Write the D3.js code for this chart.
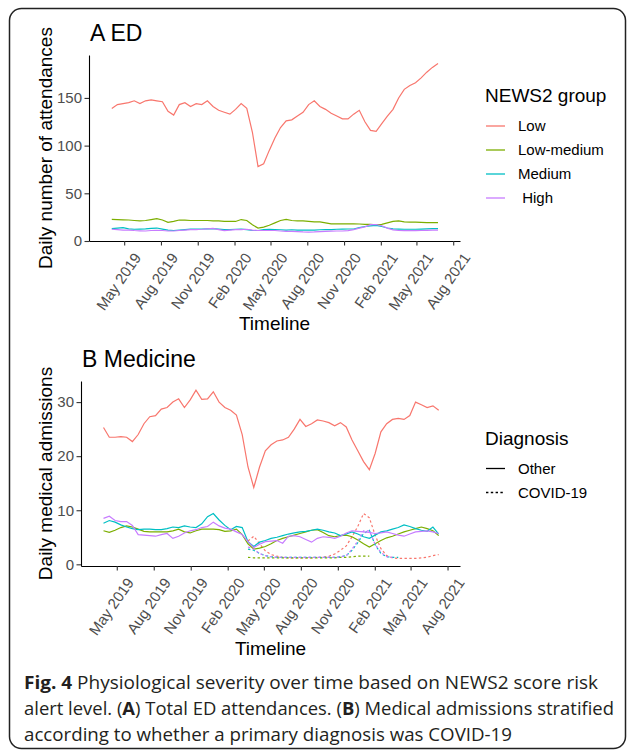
<!DOCTYPE html>
<html>
<head>
<meta charset="utf-8">
<script src="https://d3js.org/d3.v7.min.js"></script>
<style>
  body { margin: 0; background: #fff; }
  svg { display: block; font-family: "Liberation Sans", Arial, Helvetica, sans-serif; }
</style>
</head>
<body>
<svg id="chart" width="627" height="754"></svg>
<script>
var groups = ["Low", "Low-medium", "Medium", " High"];
var colours = ["#F8766D", "#7CAE00", "#00BFC4", "#C77CFF"];
var diagnoses = ["Other", "COVID-19"];
var tickLabels = ["2019-05-01", "2019-08-01", "2019-11-01", "2020-02-01", "2020-05-01",
                  "2020-08-01", "2020-11-01", "2021-02-01", "2021-05-01", "2021-08-01"];

// panel A: ED attendances, one value every ~2 weeks
var startA = "2019-03-31", endA = "2021-06-24";
var lowA = [139,143,144,145,147,144,147,148,147,146,136,132,143,145,141,144,143,147,141,137,
            135,133,138,144,139,114,78,81,95,108,119,126,127,131,135,143,147,141,138,134,
            131,128,128,133,137,125,116,115,123,131,138,150,159,163,166,171,177,182,186];
var lowMedA = [22.7,22.5,22.2,22,21.5,21,21.5,22.5,23.5,22,19.5,20.5,22,21.8,21.5,21.5,21.5,21.5,21,21,
               20.5,20.5,20.5,22.5,21.5,17,13.5,14.5,16.5,19,21.5,22.7,21.5,21,21,20.5,20,20,19,18,
               18,18,18,18,17.8,17.5,17.5,17,17.5,19,20.5,21,20,19.8,19.8,19.5,19.2,19.2,19.2];
var medA = [12.9,13.5,14,12.8,12.3,12.5,12.8,13.3,13.6,12.5,11.5,11,11.5,12,12.5,12.5,12.6,12.8,12.9,12.5,
            12,12,12.3,12.5,12,11,11,12,12.3,12,11.8,11.5,11.8,11.5,11.5,11.5,11.5,11.8,12,12,
            12.3,12.5,12.6,12.6,14,15.2,15.9,16.3,15.2,13.6,12.8,12.5,12.3,12.3,12.3,12.5,12.8,12.9,12.9];
var highA = [12.3,12,11.5,11.5,11,10.7,10.5,11,11.2,11,10.5,10.5,11,11.5,12,12,12.3,12.8,13.3,12,
             10.8,11.5,12,12,12.3,11.5,11,11,11,11,10.5,10,10,9.8,9.5,9.4,9.5,9.8,10,10.3,
             10.5,10.5,10.8,12,13.5,14.8,17.2,17.3,16,13.5,11.7,11,10.8,10.8,10.8,11,11.2,11.5,11.5];

// panel B: medical admissions, same spacing
var startB = "2019-03-29", endB = "2021-07-10";
var lowB = [25.3,23.5,23.5,23.6,23.5,22.7,24,26,27.3,27.5,28.7,29,30,30.6,29,30.4,32.2,30.5,30.6,31.9,
            30,29,28.5,27.6,24,18,14.2,18,21,22.1,22.8,23,23.5,25,26.8,25.5,26,26.7,26.5,26.2,
            25.6,26.2,25.4,23,21,19,17.5,20.5,24.5,26,26.8,27,26.8,27.5,30,29.5,29,29.3,28.5];
var lowMedB = [6.2,5.9,6.3,6.8,7.1,6.9,6.5,6.1,6,6,6,6,6.2,6.5,6,5.8,6.2,6.5,6.5,6.5,
               6.4,6.1,6.2,6.5,5.5,3.8,2.8,3,3.3,3.8,4.4,4.8,5.1,5.4,5.7,6,6.3,6.4,5.9,5.3,
               5.1,5.3,5.4,5.1,4.5,3.8,3.2,3.8,4.4,4.9,5.2,5.6,6,6.3,6.6,6.9,6.6,6.2,5.3];
var medB = [7.6,8.1,7.8,7.3,6.9,6.6,6.4,6.5,6.5,6.4,6.4,6.6,6.9,6.8,7.1,6.9,6.8,7.5,8.8,9.4,
            8.2,7.2,6.4,7,6.8,4.2,3.3,4.1,4.4,4.8,5,5.3,5.6,5.8,6,6.1,6.3,6.5,6.3,6,
            5.8,5.3,5.6,6,5.6,5.1,4.8,5.4,6,6.2,6.5,6.8,7.3,7,6.6,6.3,6.1,6.9,5.6];
var highB = [8.5,8.9,8.1,7.9,7.9,7.2,5.5,5.4,5.3,5.2,5.5,5.7,4.8,5.2,5.8,6.2,6.4,6.8,7,7.8,
             7.1,6.7,6.5,6,5.5,4.2,3.1,3.7,4.2,4.3,4.4,3.9,5.2,5.3,5.1,4.6,4.1,4.8,5.1,5,
             4.8,5.2,5.8,6.2,6.1,6,5.9,5.7,5.8,6,5.7,5.4,5.2,5.6,6,6.1,6.2,6,5.7];

// COVID-19 series begin at this sample of panel B
var covidFrom = 25;
var covidLowB = [4.3,5.2,3.8,2.5,1.8,1.5,1.3,1.2,1.2,1.2,1.2,1.2,1.3,1.3,1.5,1.9,2.6,3.4,5.1,7,
                 9.4,8.6,5.4,2.9,1.6,1.2,1.1,1.1,1.1,1.1,1.2,1.3,1.6,1.8];
var covidLowMedB = [1.3,1.2,1.2,1.2,1.2,1.2,1.2,1.2,1.2,1.2,1.2,1.2,1.2,1.2,1.2,1.2,1.3,1.3,1.4,1.5,1.5,1.5];
var covidMedB = [2.8,2.6,2,1.6,1.4,1.3,1.3,1.3,1.3,1.3,1.3,1.3,1.3,1.3,1.3,1.3,1.4,1.6,2.6,4,
                 5.7,6.3,3.6,2,1.4,1.3,1.3];
var covidHighB = [3.2,2.8,2,1.6,1.4,1.3,1.3,1.3,1.3,1.3,1.3,1.3,1.3,1.3,1.3,1.3,1.4,1.6,2.8,4.3,
                  6.2,6.2,3.7,2.2,1.4,1.3];

var parse = d3.timeParse("%Y-%m-%d");
var svg = d3.select("#chart");

//
// evenly spaced sample dates between two days
function sampleDates(start, end, n) {
  var t = d3.scaleLinear().domain([0, n - 1]).range([+parse(start), +parse(end)]);
  return d3.range(n).map((i) => new Date(t(i)));
}

var datesA = sampleDates(startA, endA, lowA.length),
    datesB = sampleDates(startB, endB, lowB.length),
    datesCovid = datesB.slice(covidFrom);

//
// one panel: axes, titles, lines
function panel(p) {
  var x = d3.scaleTime().domain(p.xDomain.map(parse)).range([p.left, 460]),
      y = d3.scaleLinear().domain(p.yDomain).range([p.bottom, p.top]),
      g = svg.append("g");

  var line = d3.line()
    .defined((d) => d[1] != null)
    .x((d) => x(d[0]))
    .y((d) => y(d[1]));

  p.series.forEach(function(s) {
    g.append("path")
      .datum(d3.zip(s.dates, s.values))
      .attr("d", line)
      .attr("fill", "none")
      .attr("stroke", s.colour)
      .attr("stroke-width", 1.2)
      .attr("stroke-dasharray", s.dash ? "2.4,2.4" : null);
  });

  var ya = g.append("g")
    .attr("transform", "translate(" + p.left + ",0)")
    .call(d3.axisLeft(y).tickValues(p.yTicks).tickSize(4.5).tickSizeOuter(0).tickPadding(2.5));
  var xa = g.append("g")
    .attr("transform", "translate(0," + p.bottom + ")")
    .call(d3.axisBottom(x).tickValues(tickLabels.map(parse))
      .tickFormat(d3.timeFormat("%b %Y")).tickSize(4.5).tickSizeOuter(0));

  [ya, xa].forEach(function(a) {
    a.select(".domain").attr("stroke", "#000").attr("stroke-width", 1.1);
    a.selectAll(".tick line").attr("stroke", "#333").attr("stroke-width", 1.1);
    a.selectAll(".tick text").attr("fill", "#4d4d4d").attr("font-size", 15);
    a.attr("font-family", null);
  });
  xa.selectAll(".tick text")
    .attr("text-anchor", "end")
    .attr("x", 0).attr("y", 0).attr("dy", "0.71em")
    .attr("transform", "translate(8.5,10.5) rotate(-55)");

  g.append("text")
    .attr("x", p.left + 1).attr("y", p.top - 14)
    .attr("font-size", 23)
    .text(p.title);
  g.append("text")
    .attr("transform", "translate(51.5," + ((p.top + p.bottom) / 2) + ") rotate(-90)")
    .attr("text-anchor", "middle")
    .attr("font-size", 19)
    .text(p.yTitle);
  g.append("text")
    .attr("x", (p.left + 460) / 2).attr("y", p.bottom + 89)
    .attr("text-anchor", "middle")
    .attr("font-size", 19)
    .text("Timeline");
}

//
// legend: title plus short key lines
function legend(title, top, items) {
  var g = svg.append("g");
  g.append("text")
    .attr("x", 485).attr("y", top)
    .attr("font-size", 19)
    .text(title);
  items.forEach(function(it, i) {
    var ky = top + 24 + i * 24;
    g.append("line")
      .attr("x1", 486).attr("x2", 505).attr("y1", ky).attr("y2", ky)
      .attr("stroke", it.colour).attr("stroke-width", 1.3)
      .attr("stroke-dasharray", it.dash ? "2.4,2.4" : null);
    g.append("text")
      .attr("x", 518).attr("y", ky).attr("dy", "0.35em")
      .attr("font-size", 15)
      .style("white-space", "pre")
      .text(it.label);
  });
}

panel({
  title: "A ED", yTitle: "Daily number of attendances",
  left: 89, top: 55, bottom: 241,
  xDomain: ["2019-02-02", "2021-08-18"], yDomain: [0, 195], yTicks: [0, 50, 100, 150],
  series: [lowA, lowMedA, medA, highA].map((v, i) => ({dates: datesA, values: v, colour: colours[i]}))
});

var solidB = [lowB, lowMedB, medB, highB],
    covidB = [covidLowB, covidLowMedB, covidMedB, covidHighB],
    seriesB = [];
solidB.forEach(function(v, i) {
  seriesB.push({dates: datesB, values: v, colour: colours[i]});
  seriesB.push({dates: datesCovid, values: covidB[i], colour: colours[i], dash: true});
});

panel({
  title: "B Medicine", yTitle: "Daily medical admissions",
  left: 81, top: 381, bottom: 566,
  xDomain: ["2019-02-01", "2021-09-01"], yDomain: [-0.31, 33.9], yTicks: [0, 10, 20, 30],
  series: seriesB
});

legend("NEWS2 group", 102, groups.map((g, i) => ({label: g, colour: colours[i]})));
legend("Diagnosis", 444.5, diagnoses.map((d, i) => ({label: d, colour: "#000", dash: i == 1})));

//
// figure frame and caption
svg.append("rect")
  .attr("x", 9.5).attr("y", 8.5).attr("width", 616).attr("height", 740)
  .attr("rx", 12)
  .attr("fill", "none").attr("stroke", "#222").attr("stroke-width", 1.5);

var caption = [
  {len: 574, parts: [["Fig. 4", true], [" Physiological severity over time based on NEWS2 score risk", false]]},
  {len: 590, parts: [["alert level. (", false], ["A", true], [") Total ED attendances. (", false], ["B", true],
                     [") Medical admissions stratified", false]]},
  {len: 488, parts: [["according to whether a primary diagnosis was COVID-19", false]]}
];
caption.forEach(function(c, i) {
  var t = svg.append("text")
    .attr("x", 24).attr("y", 689 + i * 26)
    .attr("font-family", "'Open Sans', 'Noto Sans', sans-serif")
    .attr("font-size", 18).attr("fill", "#231f20")
    .attr("textLength", c.len).attr("lengthAdjust", "spacingAndGlyphs")
    .style("white-space", "pre");
  c.parts.forEach(function(p) {
    t.append("tspan").attr("font-weight", p[1] ? "bold" : null).text(p[0]);
  });
});
</script>
</body>
</html>
